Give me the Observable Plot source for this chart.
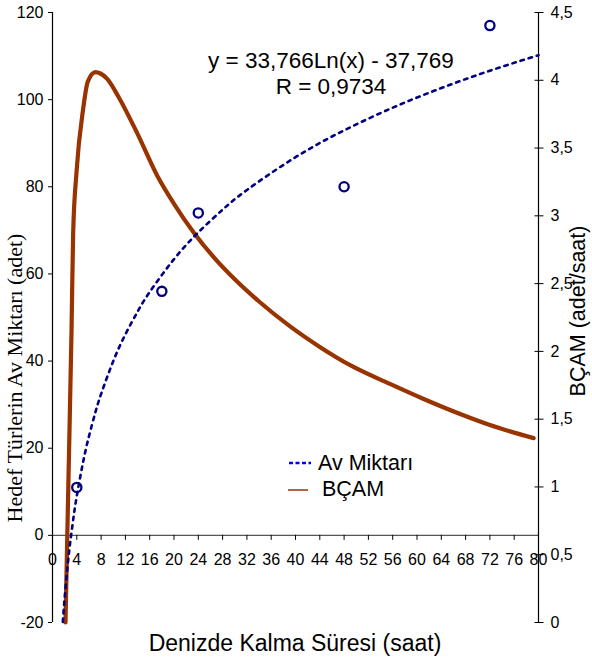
<!DOCTYPE html>
<html><head><meta charset="utf-8">
<script src="https://cdn.jsdelivr.net/npm/d3@7"></script>
<script src="https://cdn.jsdelivr.net/npm/@observablehq/plot@0.6"></script>
<style>body{margin:0;background:#fff}</style>
</head><body><div id="chart"></div>
<script>
// ---- data ----
const catchHours = [4, 18, 24, 48, 72];
const catchAmount = [11, 56, 74, 80, 117];

// logarithmic trendline
const trendHours = [1.7, 2, 2.5, 3, 3.5, 4, 5, 6, 7, 8, 10, 12, 14, 16, 20, 24, 28, 32, 40, 48, 56, 64, 72, 80];
const trendAmount = [-19.85, -14.36, -6.83, -0.67, 4.53, 9.04, 16.58, 22.73, 27.94, 32.45, 39.98, 46.14, 51.34, 55.85, 63.39, 69.54, 74.75, 79.26, 86.79, 92.95, 98.15, 102.66, 106.64, 110.2];

// BÇAM curve (right axis, adet/saat)
const bcamHours = [2.14, 2.6, 3.13, 3.4, 3.95, 5.05, 5.81, 7.08, 7.9, 9.0, 10.9, 13.94, 17.24, 20, 23.3, 26.6, 30, 34, 39, 44, 49, 56, 61, 67, 72, 79.2];
const bcamValues = [0, 1.0, 2.15, 2.87, 3.32, 3.79, 3.99, 4.06, 4.05, 4.01, 3.875, 3.61, 3.296, 3.089, 2.874, 2.692, 2.532, 2.368, 2.188, 2.033, 1.898, 1.751, 1.651, 1.54, 1.457, 1.36];

const xTicks = [0, 4, 8, 12, 16, 20, 24, 28, 32, 36, 40, 44, 48, 52, 56, 60, 64, 68, 72, 76, 80];
const leftTicks = [-20, 0, 20, 40, 60, 80, 100, 120];
const rightTicks = [0, 0.5, 1, 1.5, 2, 2.5, 3, 3.5, 4, 4.5];

const xLabel = "Denizde Kalma Süresi (saat)";
const yLeftLabel = "Hedef Türlerin Av Miktarı (adet)";
const yRightLabel = "BÇAM (adet/saat)";
const equationText = "y = 33,766Ln(x) - 37,769";
const rText = "R = 0,9734";
const legendNames = ["Av Miktarı", "BÇAM"];

// ---- scales / layout ----
const W = 592, H = 662, mL = 52, mR = 54, mT = 12, mB = 40;
const yDom = [-20, 120], rDom = [0, 4.5];
const toLeft = r => yDom[0] + (r - rDom[0]) / (rDom[1] - rDom[0]) * (yDom[1] - yDom[0]);
const toRight = l => rDom[0] + (l - yDom[0]) / (yDom[1] - yDom[0]) * (rDom[1] - rDom[0]);
const comma = v => String(+v.toFixed(2)).replace(".", ",");

const points = catchHours.map((h, i) => ({h, v: catchAmount[i]}));
const trend = trendHours.map((h, i) => ({h, v: trendAmount[i]}));
const bcam = bcamHours.map((h, i) => ({h, r: bcamValues[i]}));

const y0px = mT + (H - mT - mB) * (yDom[1] - 0) / (yDom[1] - yDom[0]);
const axisDy = y0px - (H - mB);

const navy = "#000080", brown = "#993300";
const font = "'Liberation Sans', Arial, sans-serif";

const chart = Plot.plot({
  width: W, height: H,
  marginLeft: mL, marginRight: mR, marginTop: mT, marginBottom: mB,
  style: {fontFamily: font, background: "#fff", color: "#000", overflow: "hidden"},
  x: {domain: [0, 80]},
  y: {domain: yDom},
  marks: [
    Plot.ruleY([0], {stroke: "#555", strokeWidth: 1.2}),
    Plot.ruleX([0], {stroke: "#000", strokeWidth: 1.2}),
    Plot.ruleX([80], {stroke: "#000", strokeWidth: 1.2}),
    Plot.axisY({ticks: leftTicks, anchor: "left", tickSize: 4, tickPadding: 5, fontSize: 16, tickFormat: d => String(d), label: null}),
    Plot.axisY({ticks: rightTicks.map(toLeft), anchor: "right", tickSize: 9, dx: -4.5, fill: "none", label: null}),
    Plot.axisY({ticks: rightTicks.map(toLeft), anchor: "right", tickSize: 0, tickPadding: 12, fontSize: 16, tickFormat: d => comma(toRight(d)), label: null}),
    Plot.axisX({ticks: xTicks, anchor: "bottom", tickSize: 5, tickPadding: 13, fontSize: 16, dy: axisDy, tickFormat: d => String(d), label: null}),
    Plot.line(bcam, {x: "h", y: d => toLeft(d.r), stroke: brown, strokeWidth: 4.2, curve: "monotone-x", strokeLinejoin: "round"}),
    Plot.line(trend, {x: "h", y: "v", stroke: navy, strokeWidth: 2.6, strokeDasharray: "3.5,5", curve: "natural"}),
    Plot.dot(points, {x: "h", y: "v", r: 4.6, stroke: navy, strokeWidth: 2.3, fill: "none"})
  ]
});
document.getElementById("chart").appendChild(chart);

// ---- annotations ----
const svg = d3.select(chart);
const g = svg.append("g").attr("font-family", font).attr("fill", "#000");
g.append("text").attr("x", 331).attr("y", 62).attr("text-anchor", "middle").attr("dominant-baseline", "middle").attr("font-size", 22.5).text(equationText);
g.append("text").attr("x", 331).attr("y", 88).attr("text-anchor", "middle").attr("dominant-baseline", "middle").attr("font-size", 22.5).text(rText);
g.append("text").attr("x", 295).attr("y", 645).attr("text-anchor", "middle").attr("dominant-baseline", "middle").attr("font-size", 23).text(xLabel);
g.append("text").attr("transform", "translate(17,378) rotate(-90)").attr("text-anchor", "middle").attr("dominant-baseline", "middle")
  .attr("font-family", "'Liberation Serif', 'Times New Roman', serif").attr("font-size", 22).text(yLeftLabel);
g.append("text").attr("transform", "translate(579,311) rotate(-90)").attr("text-anchor", "middle").attr("dominant-baseline", "middle")
  .attr("font-size", 21.5).text(yRightLabel);

// legend
const lg = g.append("g").attr("text-anchor", "start");
lg.append("line").attr("x1", 289).attr("x2", 311).attr("y1", 463).attr("y2", 463).attr("stroke", "#0000ff").attr("stroke-width", 2.6).attr("stroke-dasharray", "4,2.5");
lg.append("text").attr("x", 318).attr("y", 464).attr("text-anchor", "start").attr("dominant-baseline", "middle").attr("font-size", 21.5).text(legendNames[0]);
lg.append("line").attr("x1", 288).attr("x2", 308).attr("y1", 490).attr("y2", 490).attr("stroke", brown).attr("stroke-width", 1.5);
lg.append("text").attr("x", 322).attr("y", 490).attr("text-anchor", "start").attr("dominant-baseline", "middle").attr("font-size", 21.5).text(legendNames[1]);
</script>
</body></html>
